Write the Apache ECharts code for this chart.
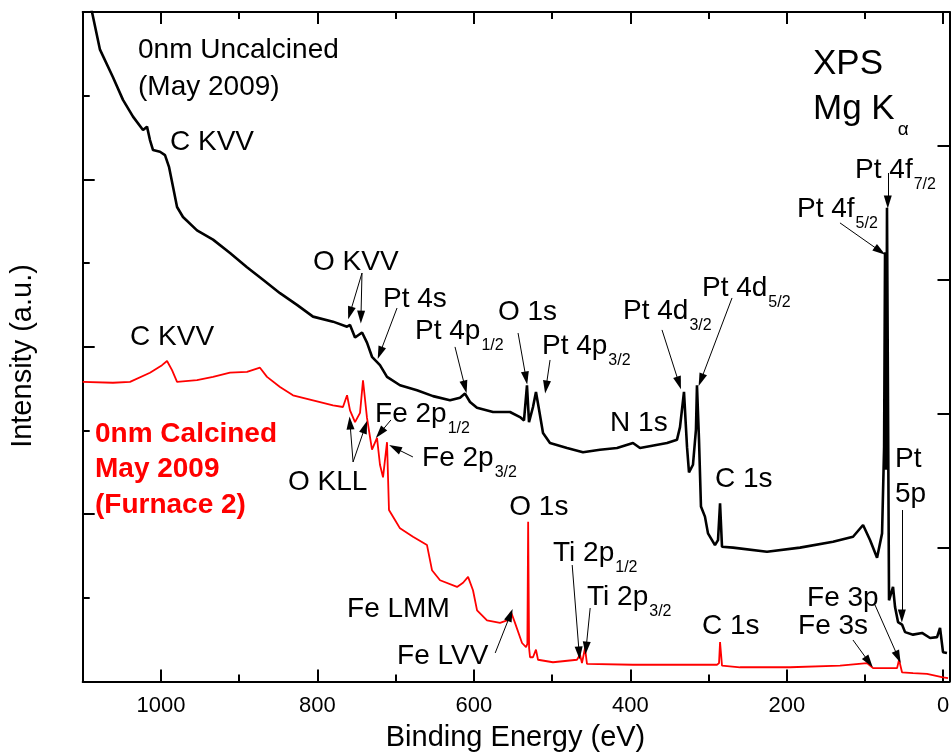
<!DOCTYPE html>
<html>
<head>
<meta charset="utf-8">
<script src="https://cdn.jsdelivr.net/npm/echarts@6/dist/echarts.min.js"></script>
<style>
  html, body { margin: 0; padding: 0; background: #fff; }
  #chart { width: 952px; height: 755px; }
</style>
</head>
<body>
<div id="chart"></div>
<script>
// XPS survey spectra (Mg Kα), binding energy in eV, intensity in arbitrary units (offset for display)

// 0nm film, uncalcined
const uncalcinedEnergy = [1100, 1088.1, 1077.9, 1061.3, 1048.5, 1035.7, 1022.9, 1017.8, 1014.0, 1010.1, 1001.2, 994.8, 989.7, 984.5, 979.4, 971.8, 953.9, 933.4, 911.7, 890.0, 869.5, 847.8, 826.1, 805.6, 780.0, 762.1, 758.3, 751.9, 742.9, 736.6, 730.2, 720.0, 711.0, 694.4, 672.7, 652.2, 630.5, 617.7, 611.3, 604.9, 596.0, 575.5, 553.8, 541.0, 535.9, 532.1, 529.5, 524.4, 520.6, 516.7, 511.6, 502.7, 480.9, 460.5, 438.8, 417.0, 396.6, 387.6, 353.1, 340.3, 336.5, 331.4, 327.5, 325.0, 319.9, 316.1, 314.8, 312.2, 309.7, 304.6, 300.7, 291.8, 287.9, 285.3, 282.8, 268.7, 225.3, 183.1, 140.9, 115.3, 102.5, 93.6, 84.6, 78.2, 75.6, 74.4, 72.9, 71.9, 69.3, 64.2, 61.6, 57.8, 52.7, 48.8, 38.6, 27.1, 16.8, 7.9, 4.1, 0.3, -4.8];
const uncalcinedIntensity = [8.50, 8.00, 7.55, 7.22, 6.95, 6.75, 6.59, 6.63, 6.47, 6.35, 6.33, 6.29, 6.15, 5.91, 5.67, 5.55, 5.39, 5.28, 5.12, 4.95, 4.80, 4.64, 4.50, 4.36, 4.30, 4.24, 4.26, 4.11, 4.17, 4.05, 3.88, 3.78, 3.64, 3.54, 3.48, 3.41, 3.36, 3.39, 3.44, 3.34, 3.27, 3.22, 3.22, 3.16, 3.12, 3.54, 3.10, 3.28, 3.46, 3.25, 2.97, 2.85, 2.79, 2.74, 2.77, 2.79, 2.85, 2.79, 2.85, 2.89, 3.04, 3.46, 2.80, 2.50, 2.59, 3.01, 3.54, 2.89, 2.09, 1.97, 1.77, 1.63, 1.69, 2.13, 1.61, 1.60, 1.55, 1.60, 1.67, 1.73, 1.87, 1.69, 1.48, 1.77, 2.80, 5.13, 2.53, 5.66, 0.97, 1.13, 0.89, 0.71, 0.68, 0.59, 0.56, 0.58, 0.52, 0.53, 0.64, 0.35, 0.34];

// 0nm film, calcined May 2009 (Furnace 2)
const calcinedEnergy = [1100, 1061.3, 1039.5, 1014.0, 998.6, 992.2, 985.8, 979.4, 953.9, 933.4, 911.7, 890.0, 873.4, 864.4, 847.8, 831.2, 805.6, 780.0, 767.3, 762.1, 758.3, 751.9, 745.5, 741.7, 736.6, 730.2, 723.8, 720.0, 716.1, 711.0, 708.5, 700.8, 694.4, 677.8, 659.9, 653.5, 643.2, 621.5, 613.8, 607.4, 601.1, 595.9, 583.2, 566.5, 557.6, 552.5, 547.4, 538.4, 533.3, 531.6, 530.6, 529.4, 528.2, 524.4, 520.6, 518.0, 498.9, 468.2, 464.3, 461.8, 457.9, 455.4, 396.6, 289.2, 286.6, 285.3, 282.8, 259.7, 195.8, 131.9, 97.4, 89.7, 59.0, 56.5, 52.7, 38.6, 20.7, 0.3, -6.1];
const calcinedIntensity = [3.58, 3.57, 3.58, 3.69, 3.78, 3.83, 3.72, 3.58, 3.60, 3.64, 3.69, 3.70, 3.75, 3.64, 3.52, 3.42, 3.36, 3.30, 3.28, 3.42, 3.24, 3.10, 3.21, 3.60, 3.15, 2.77, 2.91, 2.59, 2.44, 2.86, 2.05, 1.93, 1.83, 1.73, 1.63, 1.33, 1.21, 1.13, 1.18, 1.25, 1.09, 0.85, 0.73, 0.70, 0.73, 0.83, 0.70, 0.46, 0.41, 0.45, 1.91, 0.40, 0.29, 0.29, 0.38, 0.26, 0.23, 0.26, 0.32, 0.22, 0.40, 0.21, 0.20, 0.20, 0.22, 0.47, 0.19, 0.17, 0.17, 0.19, 0.22, 0.16, 0.16, 0.26, 0.11, 0.10, 0.09, 0.05, 0.04];

// Binding-energy axis ticks
const energyMajorTicks = [0, 200, 400, 600, 800, 1000];
const energyMinorTicks = [100, 300, 500, 700, 900];

// Peak labels: text, optional subscript, anchor [eV, intensity] (left edge, vertical centre)
const peakLabels = [
  { text: '0nm Uncalcined', at: [1029.3, 7.546] },
  { text: '(May 2009)', at: [1029.3, 7.104] },
  { text: 'C KVV', at: [988.4, 6.446] },
  { text: 'C KVV', at: [1039.5, 4.117] },
  { text: 'O KVV', at: [805.6, 5.013] },
  { text: 'Pt 4s', at: [716.1, 4.570] },
  { text: 'Pt 4p', sub: '1/2', at: [675.2, 4.188] },
  { text: 'O 1s', at: [569.2, 4.415] },
  { text: 'Pt 4p', sub: '3/2', at: [512.9, 4.009] },
  { text: 'N 1s', at: [425.9, 3.089] },
  { text: 'Pt 4d', sub: '3/2', at: [409.3, 4.427] },
  { text: 'Pt 4d', sub: '5/2', at: [308.4, 4.702] },
  { text: 'C 1s', at: [291.8, 2.420] },
  { text: 'XPS', at: [166.5, 7.378], size: 35 },
  { text: 'Mg K', sub: 'α', at: [166.5, 6.840], size: 35 },
  { text: 'Pt 4f', sub: '7/2', at: [112.7, 6.112] },
  { text: 'Pt 4f', sub: '5/2', at: [186.9, 5.646] },
  { text: 'Pt', at: [61.7, 2.659] },
  { text: '5p', at: [61.7, 2.240] },
  { text: 'Fe 3p', at: [174.1, 0.998] },
  { text: 'Fe 3s', at: [185.6, 0.663] },
  { text: 'C 1s', at: [308.4, 0.663] },
  { text: 'Ti 2p', sub: '1/2', at: [498.8, 1.535] },
  { text: 'Ti 2p', sub: '3/2', at: [455.3, 1.010] },
  { text: 'O 1s', at: [554.7, 2.085] },
  { text: 'Fe LMM', at: [762.1, 0.866] },
  { text: 'Fe LVV', at: [698.2, 0.305] },
  { text: 'O KLL', at: [837.6, 2.384] },
  { text: 'Fe 2p', sub: '1/2', at: [726.3, 3.196] },
  { text: 'Fe 2p', sub: '3/2', at: [666.2, 2.671] },
  { text: '0nm Calcined', at: [1084.3, 2.957], red: true },
  { text: 'May 2009', at: [1084.3, 2.539], red: true },
  { text: '(Furnace 2)', at: [1084.3, 2.109], red: true }
];

// Pointer arrows: tail [eV, intensity] -> head [eV, intensity]
const peakArrows = [
  [[743.0, 4.881], [758.3, 4.403]],
  [[743.0, 4.881], [744.3, 4.355]],
  [[698.2, 4.463], [720.0, 3.925]],
  [[624.1, 3.998], [611.3, 3.519]],
  [[543.5, 4.164], [533.3, 3.626]],
  [[502.6, 3.842], [507.7, 3.519]],
  [[359.5, 4.201], [337.8, 3.567]],
  [[270.0, 4.583], [309.7, 3.603]],
  [[70.9, 6.076], [70.9, 5.729]],
  [[132.0, 5.480], [80.9, 5.144]],
  [[52.9, 2.049], [52.9, 0.783]],
  [[87.2, 0.914], [57.8, 0.293]],
  [[115.4, 0.496], [95.0, 0.233]],
  [[474.3, 1.392], [465.4, 0.341]],
  [[451.3, 0.878], [456.5, 0.400]],
  [[572.7, 0.341], [553.5, 0.795]],
  [[754.4, 2.623], [758.3, 3.089]],
  [[754.4, 2.623], [739.1, 3.041]],
  [[706.0, 3.125], [720.0, 2.969]],
  [[677.9, 2.683], [700.9, 2.790]]
];

const FONT = '"Liberation Sans", Arial, Helvetica, sans-serif';
const pairs = (xs, ys) => xs.map((x, i) => [x, ys[i]]);

const chart = echarts.init(document.getElementById('chart'), null, { renderer: 'canvas' });

const baseX = {
  type: 'value', inverse: true, min: -8, max: 1100,
  splitLine: { show: false }
};
function energyAxis(position, ticks, len, withLabels, withLine) {
  return Object.assign({}, baseX, {
    position: position,
    axisLine: { show: withLine, onZero: false, lineStyle: { color: '#000', width: 2 } },
    axisTick: { show: true, inside: true, length: len, customValues: ticks, lineStyle: { color: '#000', width: 2 } },
    axisLabel: withLabels
      ? { show: true, customValues: ticks, formatter: v => String(v), fontSize: 22, color: '#000', fontFamily: FONT, margin: 13 }
      : { show: false }
  });
}

const xAxes = [
  energyAxis('bottom', energyMajorTicks, 12, true, true),
  energyAxis('bottom', energyMinorTicks, 7, false, false),
  energyAxis('top', energyMajorTicks, 12, false, true),
  energyAxis('top', energyMinorTicks, 7, false, false)
];

const yAxes = [
  {
    type: 'value', position: 'left', min: 0, max: 8, interval: 2,
    axisLine: { show: true, onZero: false, lineStyle: { color: '#000', width: 2 } },
    axisTick: { show: true, inside: true, length: 12, lineStyle: { color: '#000', width: 2 } },
    minorTick: { show: true, splitNumber: 2, length: 7, lineStyle: { color: '#000', width: 2 } },
    axisLabel: { show: false },
    splitLine: { show: false }
  },
  {
    type: 'value', position: 'right', min: 0, max: 5, interval: 1,
    axisLine: { show: true, onZero: false, lineStyle: { color: '#000', width: 2 } },
    axisTick: { show: true, inside: true, length: 12, lineStyle: { color: '#000', width: 2 } },
    axisLabel: { show: false },
    splitLine: { show: false }
  }
];

chart.setOption({
  animation: false,
  backgroundColor: '#fff',
  grid: { left: 82.7, right: 2.5, top: 12, bottom: 73.5, containLabel: false, outerBoundsMode: 'none' },
  xAxis: xAxes,
  yAxis: yAxes,
  series: [
    {
      name: '0nm Uncalcined', type: 'line', xAxisIndex: 0, yAxisIndex: 0,
      data: pairs(uncalcinedEnergy, uncalcinedIntensity),
      showSymbol: false, symbol: 'none', clip: true, silent: true,
      lineStyle: { color: '#000', width: 2.6 },
      markLine: {
        silent: true, animation: false,
        symbol: ['none', 'triangle'], symbolSize: [8, 13],
        label: { show: false },
        lineStyle: { color: '#000', width: 1, type: 'solid' },
        data: peakArrows.map(a => [{ coord: a[0] }, { coord: a[1] }])
      },
      z: 3
    },
    {
      name: '0nm Calcined', type: 'line', xAxisIndex: 0, yAxisIndex: 0,
      data: pairs(calcinedEnergy, calcinedIntensity),
      showSymbol: false, symbol: 'none', clip: true, silent: true,
      lineStyle: { color: '#ff0000', width: 1.8 },
      z: 2
    }
  ]
});

// Axis titles and peak labels placed through the axis scales
const measureCtx = document.createElement('canvas').getContext('2d');
function textWidth(str, size, weight) {
  measureCtx.font = (weight || 'normal') + ' ' + size + 'px ' + FONT;
  return measureCtx.measureText(str).width;
}
const titleStyle = { fontSize: 29, fontFamily: FONT, fill: '#000', align: 'center', verticalAlign: 'middle', textAlign: 'center', textVerticalAlign: 'middle' };
const graphics = [
  { type: 'text', x: 515.5, y: 737.5, silent: true, style: Object.assign({ text: 'Binding Energy (eV)' }, titleStyle) },
  { type: 'text', x: 23, y: 356, rotation: Math.PI / 2, silent: true, style: Object.assign({ text: 'Intensity (a.u.)' }, titleStyle) }
];
peakLabels.forEach(l => {
  const p = chart.convertToPixel({ xAxisIndex: 0, yAxisIndex: 0 }, l.at);
  const size = l.size || 28;
  const weight = l.red ? 'bold' : 'normal';
  graphics.push({
    type: 'text', x: p[0], y: p[1], silent: true, z: 10,
    style: {
      text: l.text, fill: l.red ? '#ff0000' : '#000',
      fontSize: size, fontFamily: FONT, fontWeight: weight,
      align: 'left', verticalAlign: 'middle', textAlign: 'left', textVerticalAlign: 'middle'
    }
  });
  if (l.sub) {
    const isGreek = l.sub === 'α';
    const w = textWidth(l.text, size, weight);
    graphics.push({
      type: 'text', x: p[0] + w + (isGreek ? 3 : 1), y: p[1] + (isGreek ? 21 : 15), silent: true, z: 10,
      style: {
        text: l.sub, fill: '#000',
        fontSize: isGreek ? 19 : 16, fontFamily: FONT,
        align: 'left', verticalAlign: 'middle', textAlign: 'left', textVerticalAlign: 'middle'
      }
    });
  }
});
chart.setOption({ graphic: graphics });
</script>
</body>
</html>
